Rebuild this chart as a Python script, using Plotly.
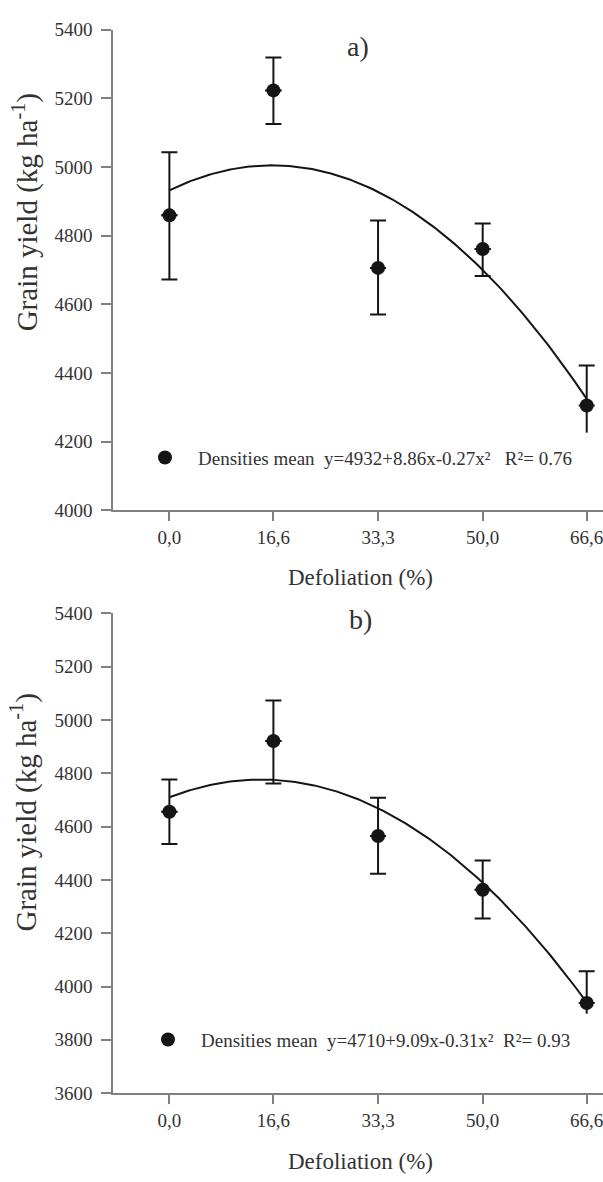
import numpy as np
import plotly.graph_objects as go

# ---------------- data ----------------
x_vals = [0.0, 16.6, 33.3, 50.0, 66.6]
x_labels = ["0,0", "16,6", "33,3", "50,0", "66,6"]

a_mean = [4859, 5223, 4706, 4761, 4305]
a_upper = [5043, 5319, 4844, 4835, 4422]
a_lower = [4672, 5125, 4570, 4682, 4226]
a_coef = [4932, 8.86, -0.27]
a_label = "Densities mean\u00a0 y=4932+8.86x-0.27x²\u00a0\u00a0 R²= 0.76"

b_mean = [4656, 4921, 4565, 4363, 3938]
b_upper = [4777, 5073, 4708, 4473, 4057]
b_lower = [4535, 4762, 4423, 4255, 3898]
b_coef = [4710, 9.09, -0.31]
b_label = "Densities mean\u00a0 y=4710+9.09x-0.31x²\u00a0 R²= 0.93"

y_ticks_a = list(range(4000, 5401, 200))
y_ticks_b = list(range(3600, 5401, 200))

# ---------------- style ----------------
FONT = "'Liberation Serif', 'Times New Roman', Times, 'DejaVu Serif', serif"
TXT = "#333333"
AX = "#808080"
INK = "#151515"
W, H = 603, 1182

fig = go.Figure()


def add_panel(mean, upper, lower, coef, label, xa, ya, legend):
    plus = [u - m for u, m in zip(upper, mean)]
    minus = [m - l for m, l in zip(mean, lower)]
    # upper error bars with caps
    fig.add_trace(go.Scatter(
        x=x_vals, y=mean, mode="markers", marker=dict(color="rgba(0,0,0,0)", size=1),
        error_y=dict(type="data", symmetric=False, array=plus, arrayminus=[0] * len(plus),
                     color=INK, thickness=2, width=8),
        showlegend=False, hoverinfo="skip", xaxis=xa, yaxis=ya))
    # lower error bars with caps (all but last)
    fig.add_trace(go.Scatter(
        x=x_vals[:-1], y=mean[:-1], mode="markers", marker=dict(color="rgba(0,0,0,0)", size=1),
        error_y=dict(type="data", symmetric=False, array=[0] * (len(minus) - 1), arrayminus=minus[:-1],
                     color=INK, thickness=2, width=8),
        showlegend=False, hoverinfo="skip", xaxis=xa, yaxis=ya))
    # lower error bar of last point, no cap
    fig.add_trace(go.Scatter(
        x=x_vals[-1:], y=mean[-1:], mode="markers", marker=dict(color="rgba(0,0,0,0)", size=1),
        error_y=dict(type="data", symmetric=False, array=[0], arrayminus=minus[-1:],
                     color=INK, thickness=2, width=0),
        showlegend=False, hoverinfo="skip", xaxis=xa, yaxis=ya))
    # fitted curve from the printed equation
    xc = np.linspace(x_vals[0], x_vals[-1], 200)
    yc = coef[0] + coef[1] * xc + coef[2] * xc ** 2
    fig.add_trace(go.Scatter(x=xc, y=yc, mode="lines", line=dict(color=INK, width=2),
                             showlegend=False, hoverinfo="skip", xaxis=xa, yaxis=ya))
    # means
    fig.add_trace(go.Scatter(x=x_vals, y=mean, mode="markers",
                             marker=dict(color=INK, size=14),
                             name=label, showlegend=True, legend=legend,
                             xaxis=xa, yaxis=ya))


add_panel(a_mean, a_upper, a_lower, a_coef, a_label, "x", "y", "legend")
add_panel(b_mean, b_upper, b_lower, b_coef, b_label, "x2", "y2", "legend2")


def px_x(p):
    return (p - 113) / (W - 113)


def px_y(p):
    return 1 - p / H


xaxis_common = dict(range=[-9.0, 69.2], tickvals=x_vals, ticktext=x_labels,
                    showline=True, linecolor=AX, linewidth=1.5, ticks="outside",
                    ticklen=9, tickwidth=1.5, tickcolor=AX, showgrid=False, zeroline=False,
                    ticklabeloverflow="allow",
                    tickfont=dict(family=FONT, size=19, color=TXT), fixedrange=True)
yaxis_common = dict(showline=True, linecolor=AX, linewidth=1.5, ticks="outside",
                    ticklen=10, tickwidth=1.5, tickcolor=AX, showgrid=False, zeroline=False,
                    ticklabelstandoff=5, ticklabeloverflow="allow",
                    tickfont=dict(family=FONT, size=19, color=TXT), fixedrange=True)

legend_common = dict(font=dict(family=FONT, size=19, color=TXT), bgcolor="rgba(0,0,0,0)",
                     itemwidth=56, xanchor="left", yanchor="middle", borderwidth=0)

fig.update_layout(
    width=W, height=H,
    margin=dict(l=113, r=0, t=0, b=0),
    paper_bgcolor="white", plot_bgcolor="white",
    font=dict(family=FONT, color=TXT),
    xaxis=dict(domain=[0, 1], anchor="y", **xaxis_common),
    yaxis=dict(domain=[px_y(509.3), px_y(20)], range=[4000, 5400], tickvals=y_ticks_a,
               anchor="x", **yaxis_common),
    xaxis2=dict(domain=[0, 1], anchor="y2", **xaxis_common),
    yaxis2=dict(domain=[px_y(1102.7), px_y(614.3)], range=[3600, 5400], tickvals=y_ticks_b,
                anchor="x2", **yaxis_common),
    legend=dict(x=px_x(132), y=px_y(455.7), **legend_common),
    legend2=dict(x=px_x(135), y=px_y(1048.3), **legend_common),
    showlegend=True,
)

ann = []


def add_text(text, cx, cy, size, angle=0):
    ann.append(dict(text=text, x=px_x(cx), y=px_y(cy), xref="paper", yref="paper",
                    xanchor="center", yanchor="middle", textangle=angle,
                    showarrow=False, font=dict(family=FONT, size=size, color=TXT)))


add_text("a)", 358, 37, 28)
add_text("b)", 360, 621, 28)
add_text("Defoliation (%)", 360, 578, 23)
add_text("Defoliation (%)", 360, 1172, 23)
ytitle = "Grain yield (kg ha<sup>-1</sup>)"
add_text(ytitle, 25, 206, 29, -90)
add_text(ytitle, 24, 817, 29, -90)
fig.update_layout(annotations=ann)

fig.write_html("out.html")
